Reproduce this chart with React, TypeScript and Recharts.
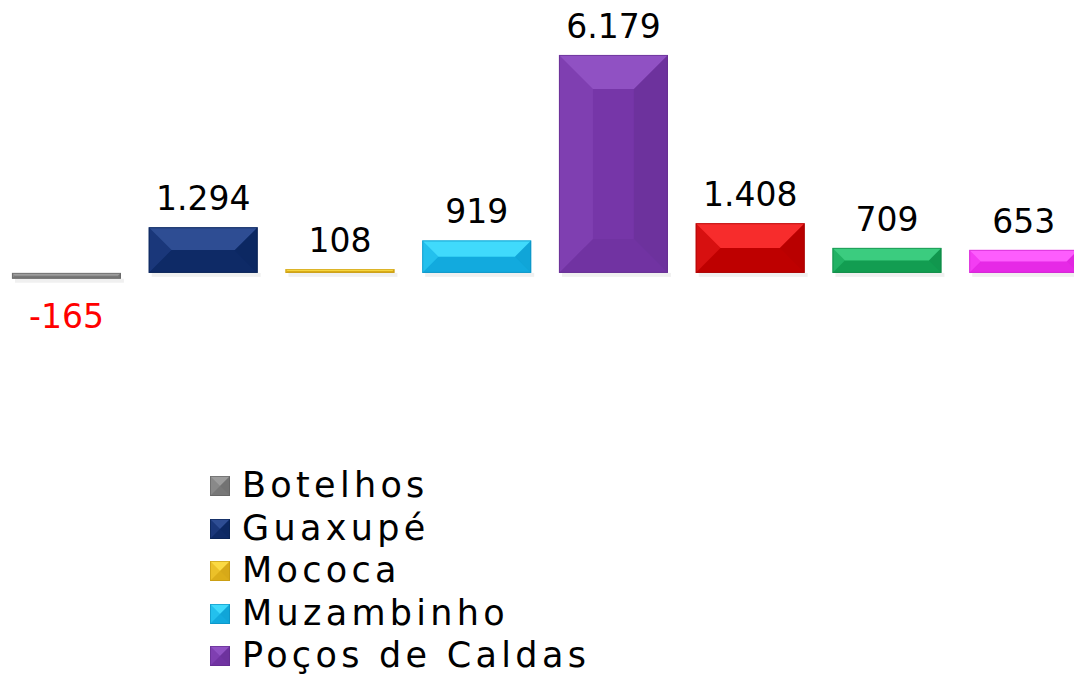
import React from 'react';
import { BarChart, Bar, XAxis, YAxis, Legend, LabelList, Cell } from 'recharts';

// one bar per city, legend lists the cities
const cities = [
  'Botelhos',
  'Guaxupé',
  'Mococa',
  'Muzambinho',
  'Poços de Caldas',
  'São Sebastião do Paraíso',
  'Três Pontas',
  'Varginha',
];
const values = [-165, 1294, 108, 919, 6179, 1408, 709, 653];
const baseColors = ['#7f7f7f', '#0f2c6c', '#e4b41c', '#14b2e6', '#7636a8', '#c60000', '#14a456', '#ee2cee'];
const lightColors = ['#a2a2a2', '#34539a', '#ffe04a', '#48e0ff', '#9556c8', '#ff3434', '#42d486', '#ff66ff'];
const darkColors = ['#5e5e5e', '#08214f', '#bf9410', '#0a8cbc', '#5f2a8a', '#a00000', '#0c8040', '#c81ec8'];

const data = cities.map((c, i) => ({ name: c, value: values[i] }));

const fmt = (v: number) => {
  const s = Math.abs(v).toString().replace(/\B(?=(\d{3})+(?!\d))/g, '.');
  return v < 0 ? '-' + s : s;
};

const FONT = '"DejaVu Sans", sans-serif';

function bevel(x: number, y: number, w: number, h: number, i: number, maxB = 34) {
  const b = Math.max(0, Math.min(maxB, h / 2, w / 2));
  const pts = (a: number[][]) => a.map((p) => p.join(',')).join(' ');
  return (
    <g>
      <rect x={x} y={y} width={w} height={h} fill={baseColors[i]} />
      <polygon points={pts([[x, y], [x + w, y], [x + w - b, y + b], [x + b, y + b]])} fill={lightColors[i]} fillOpacity={0.85} />
      <polygon points={pts([[x, y], [x + b, y + b], [x + b, y + h - b], [x, y + h]])} fill={lightColors[i]} fillOpacity={0.3} />
      <polygon points={pts([[x + w, y], [x + w - b, y + b], [x + w - b, y + h - b], [x + w, y + h]])} fill={darkColors[i]} fillOpacity={0.35} />
      <polygon points={pts([[x, y + h], [x + w, y + h], [x + w - b, y + h - b], [x + b, y + h - b]])} fill={darkColors[i]} fillOpacity={0.2} />
      <rect x={x + 0.5} y={y + 0.5} width={Math.max(0, w - 1)} height={Math.max(0, h - 1)} fill="none" stroke={darkColors[i]} strokeOpacity={0.6} />
    </g>
  );
}

const BevelBar = (props: any) => {
  const { x, y, width, height, index } = props;
  const top = Math.min(y, y + height);
  const h = Math.abs(height);
  return (
    <g>
      <rect x={x + 3} y={top + h} width={width} height={4} fill="#000" fillOpacity={0.06} />
      {bevel(x, top, width, h, index)}
    </g>
  );
};

const ValueLabel = (props: any) => {
  const { x, y, width, height, value } = props;
  const top = Math.min(y, y + height);
  const bottom = Math.max(y, y + height);
  const neg = value < 0;
  return (
    <text
      x={x + width / 2}
      y={neg ? bottom + 49 : top - 17}
      textAnchor="middle"
      fontFamily={FONT}
      fontSize={33}
      fill={neg ? '#ff0000' : '#000000'}
    >
      {fmt(value)}
    </text>
  );
};

function CityLegend() {
  return (
    <div style={{ fontFamily: FONT, fontSize: 35, letterSpacing: 4.3, color: '#000' }}>
      {cities.map((c, i) => (
        <div key={c} style={{ height: 42.5, lineHeight: '42.5px', whiteSpace: 'nowrap', display: 'flex', alignItems: 'center' }}>
          <svg width={22} height={22} style={{ marginRight: 11, marginTop: 2 }}>
            {bevel(1, 1, 20, 20, i, 10)}
          </svg>
          <span>{c}</span>
        </div>
      ))}
    </div>
  );
}

export default function App() {
  // band pitch 136.8px, bars 109px wide
  return (
    <div style={{ position: 'absolute', left: -14, top: 0, width: 1120, height: 720, background: '#fff' }}>
      <BarChart
        width={1120}
        height={720}
        data={data}
        margin={{ top: 26, left: 12, right: 14, bottom: 306 }}
        barCategoryGap="10.2%"
      >
        <XAxis dataKey="name" hide />
        <YAxis hide domain={[-4000, 7000]} allowDataOverflow />
        <Legend
          layout="vertical"
          align="center"
          verticalAlign="middle"
          content={() => <CityLegend />}
          wrapperStyle={{ left: 223, top: 464, width: 700, height: 360 }}
        />
        <Bar dataKey="value" shape={BevelBar} isAnimationActive={false}>
          {data.map((d, i) => (
            <Cell key={d.name} fill={baseColors[i]} />
          ))}
          <LabelList dataKey="value" content={ValueLabel} />
        </Bar>
      </BarChart>
    </div>
  );
}
